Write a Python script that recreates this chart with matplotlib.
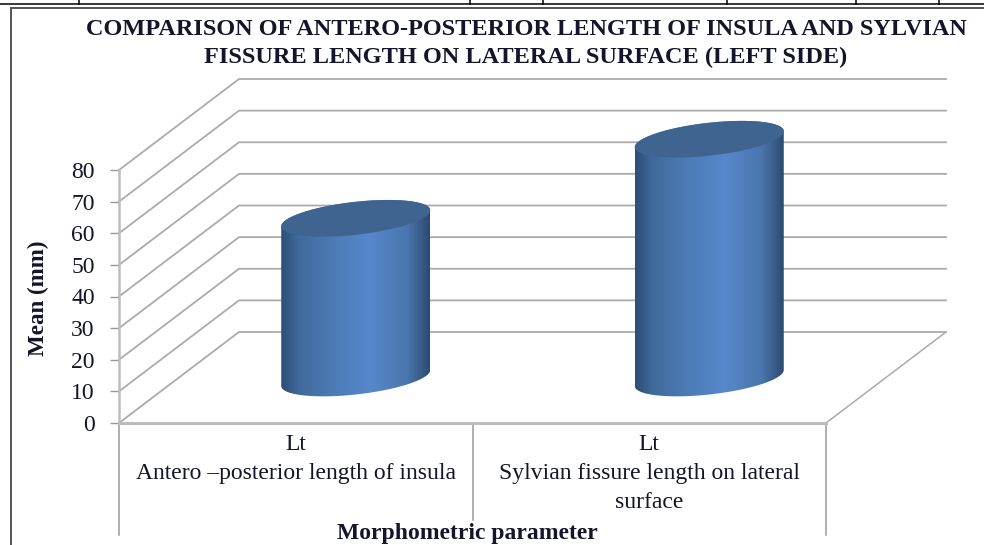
import numpy as np
import matplotlib
matplotlib.use('Agg')
import matplotlib.pyplot as plt
from matplotlib.colors import LinearSegmentedColormap
from matplotlib.lines import Line2D
from matplotlib.patches import Polygon

categories = ['Lt\nAntero \u2013posterior length of insula',
              'Lt\nSylvian fissure length on lateral\nsurface']
means = [50.5, 75.5]
y_ticks = [0, 10, 20, 30, 40, 50, 60, 70, 80]

W, H = 984, 545
X0, X2 = 119, 826      # pixel position of category 0 and 2
Y0, Y80 = 423, 170     # pixel position of value 0 and 80
sx = (X2 - X0) / 2
sy = (Y0 - Y80) / 80
depth_x = 120 / sx
depth_y = 91 / sy
grid_c = '#ababab'
text_c = '#14142a'

plt.rcParams['font.family'] = ['Liberation Serif', 'DejaVu Serif']

fig = plt.figure(figsize=(W / 100, H / 100), dpi=100)
ax = fig.add_axes([0, 0, 1, 1])
ax.patch.set_alpha(0)


def fig_line(x, y, color='black', lw=1.0):
    fig.add_artist(Line2D(np.array(x) / W, 1 - np.array(y) / H, color=color, lw=lw))


# table rules and the chart frame
fig_line([0, W], [3.5, 3.5], 'black', 1.1)
for xv in [79, 470, 543, 727, 856, 939]:
    fig_line([xv, xv], [0, 3.5], 'black', 1.1)
fig_line([10.5, 10.5], [8, H], '#555555', 1.4)
fig_line([10.5, W], [8, 8], '#555555', 1.4)

# back wall and side wall
for v in y_ticks:
    ax.plot([0, depth_x, 2 + depth_x], [v, v + depth_y, v + depth_y], color=grid_c, lw=1.3, zorder=1,
            solid_joinstyle='miter')
ax.plot([2, 2 + depth_x], [0, depth_y], color=grid_c, lw=1.1, zorder=1)

# category separators under the floor
for xv, y_end in [(0, 535), (1, 520), (2, 535)]:
    ax.plot([xv, xv], [0, (Y0 - y_end) / sy], color='#9a9a9a', lw=1.1, zorder=1)

# cylinders
half_w = 74.5 / sx
tilt = 8 / sy
minor = 16.5 / sy
base_y = 45 / sy
body_cmap = LinearSegmentedColormap.from_list(
    'body', [(0, '#2d4d75'), (0.12, '#406a9c'), (0.35, '#4c7bb5'), (0.6, '#5688cc'),
             (0.85, '#4a76ad'), (1, '#2c4a70')])
shade = np.linspace(0, 1, 256).reshape(1, -1)

for i, m in enumerate(means):
    cx = i + 0.5 + depth_x / 2
    t1 = np.linspace(np.pi, 2 * np.pi, 80)
    t2 = np.linspace(0, np.pi, 80)
    low = np.c_[cx + half_w * np.cos(t1), base_y + tilt * np.cos(t1) + minor * np.sin(t1)]
    up = np.c_[cx + half_w * np.cos(t2), base_y + m + tilt * np.cos(t2) + minor * np.sin(t2)]
    outline = Polygon(np.vstack([low, up]), closed=True, transform=ax.transData, fc='none', ec='none')
    ax.add_patch(outline)
    im = ax.imshow(shade, cmap=body_cmap, aspect='auto', zorder=3, interpolation='bilinear',
                   extent=[cx - half_w, cx + half_w, base_y - 20, base_y + m + 20])
    im.set_clip_path(outline)
    t3 = np.linspace(0, 2 * np.pi, 160)
    cap = np.c_[cx + half_w * np.cos(t3), base_y + m + tilt * np.cos(t3) + minor * np.sin(t3)]
    ax.add_patch(Polygon(cap, closed=True, fc='#3f6490', ec='none', zorder=4))

ax.set_xlim(-X0 / sx, (W - X0) / sx)
ax.set_ylim(-(H - Y0) / sy, Y0 / sy)

for s in ['top', 'right']:
    ax.spines[s].set_visible(False)
ax.spines['left'].set_position(('data', 0))
ax.spines['bottom'].set_position(('data', 0))
ax.spines['left'].set_bounds(0, 80)
ax.spines['bottom'].set_bounds(0, 2)
ax.spines['left'].set_color('#bdbdbd')
ax.spines['bottom'].set_color('#bdbdbd')
ax.spines['left'].set_linewidth(1.8)
ax.spines['bottom'].set_linewidth(2.2)
ax.spines['left'].set_zorder(2)
ax.spines['bottom'].set_zorder(2)

ax.set_yticks(y_ticks)
ax.tick_params(axis='y', length=6.5, width=1.0, color='#999999', pad=11, labelsize=17, labelcolor=text_c)
ax.set_xticks([0.5, 1.5], categories)
ax.tick_params(axis='x', length=0, pad=8, labelsize=17, labelcolor=text_c)
for lab in ax.get_xticklabels():
    lab.set_linespacing(1.5)

fig.text(526 / W, 1 - 43.5 / H, 'COMPARISON OF ANTERO-POSTERIOR LENGTH OF INSULA AND SYLVIAN\n'
         'FISSURE LENGTH ON LATERAL SURFACE (LEFT SIDE)', ha='center', va='center',
         fontsize=17.5, fontweight='bold', color=text_c, linespacing=1.4)
fig.text(38 / W, 1 - 298 / H, 'Mean (mm)', rotation=90, ha='center', va='center',
         fontsize=16.6, fontweight='bold', color=text_c)
fig.text(467 / W, 1 - 534 / H, 'Morphometric parameter', ha='center', va='center',
         fontsize=17, fontweight='bold', color=text_c)

fig.savefig('out.png', dpi=100)
